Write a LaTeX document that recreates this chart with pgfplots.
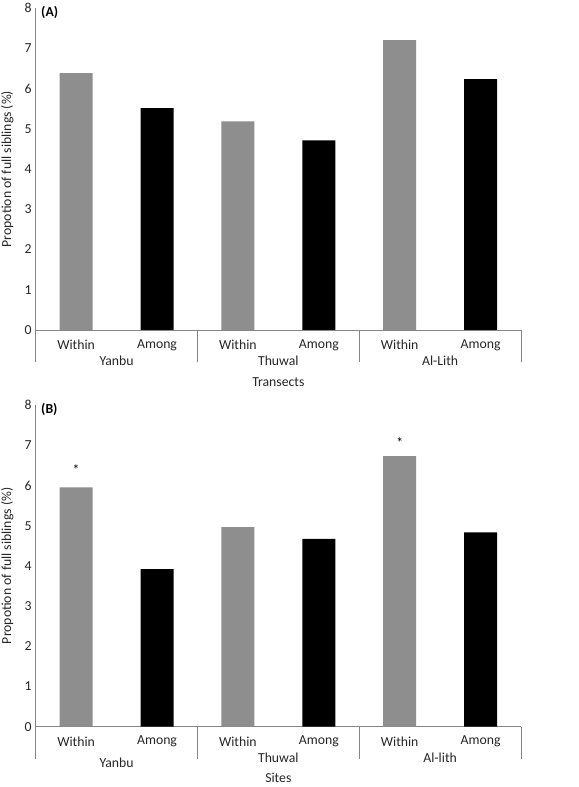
\documentclass[border=0pt]{standalone}
\usepackage{pgfplots}
\pgfplotsset{compat=1.18}
\usepackage{fontspec}
\setmainfont{Carlito}
\definecolor{bargray}{HTML}{8E8E8E}
\definecolor{axgray}{HTML}{858585}
\newcommand{\fs}{\fontsize{13.8}{16}\selectfont}
\pgfplotsset{
  panel/.style={
    scale only axis, width=485.3bp, height=322bp,
    xmin=-0.5, xmax=5.5, ymin=0, ymax=8,
    axis lines*=left,
    axis line style={draw=axgray, line width=0.8bp},
    ytick={0,...,8}, xtick={0,...,5},
    xticklabels={Within,Among,Within,Among,Within,Among},
    major tick length=0pt,
    /pgf/number format/assume math mode=true,
    tick label style={font=\fs, text=black!85},
    xticklabel style={anchor=center, yshift=-15bp},
    yticklabel style={xshift=-0.5bp},
    label style={font=\fs, text=black!85},
    ylabel={Propotion of full siblings (\%)},
    ylabel style={at={([xshift=-28.4bp]axis description cs:0,0.5)}, anchor=center},
    xlabel style={anchor=center},
    ybar, bar width=33bp, bar shift=0pt,
    clip=false,
  },
}
\newcommand{\separators}{%
  \pgfplotsinvokeforeach{-0.5,1.5,3.5,5.5}{
    \draw[axgray, line width=0.8bp] (axis cs:##1,0) -- ([yshift=-32bp]axis cs:##1,0);
  }}
\begin{document}
\begin{tikzpicture}
\path[use as bounding box] (0,0) rectangle (579bp,787bp);
% Panel A
\begin{axis}[panel, at={(35.7bp,457bp)}, anchor=south west,
  xlabel={Transects},
  xlabel style={at={([yshift=-52bp]axis description cs:0.5,0)}}]
\addplot[fill=bargray, draw=none] coordinates {(0,6.38) (2,5.18) (4,7.20)};
\addplot[fill=black, draw=none] coordinates {(1,5.51) (3,4.71) (5,6.23)};
\separators
\node[font=\fs\bfseries, anchor=west] at ([xshift=2bp,yshift=-4bp]rel axis cs:0,1) {(A)};
\node[font=\fs, text=black!85, anchor=center] at ([yshift=-31bp]axis cs:0.5,0) {Yanbu};
\node[font=\fs, text=black!85, anchor=center] at ([yshift=-31bp]axis cs:2.5,0) {Thuwal};
\node[font=\fs, text=black!85, anchor=center] at ([yshift=-31bp]axis cs:4.5,0) {Al-Lith};
\end{axis}
% Panel B
\begin{axis}[panel, at={(35.7bp,60.3bp)}, anchor=south west, height=321.7bp,
  xlabel={Sites},
  xlabel style={at={([yshift=-51bp]axis description cs:0.5,0)}}]
\addplot[fill=bargray, draw=none] coordinates {(0,5.95) (2,4.96) (4,6.73)};
\addplot[fill=black, draw=none] coordinates {(1,3.92) (3,4.67) (5,4.83)};
\separators
\node[font=\fs\bfseries, anchor=west] at ([xshift=2bp,yshift=-4bp]rel axis cs:0,1) {(B)};
\node[font=\fs, anchor=base] at ([yshift=12.5bp]axis cs:0,5.95) {*};
\node[font=\fs, anchor=base] at ([yshift=8.5bp]axis cs:4,6.73) {*};
\node[font=\fs, text=black!85, anchor=center] at ([yshift=-36bp]axis cs:0.5,0) {Yanbu};
\node[font=\fs, text=black!85, anchor=center] at ([yshift=-31bp]axis cs:2.5,0) {Thuwal};
\node[font=\fs, text=black!85, anchor=center] at ([yshift=-31bp]axis cs:4.5,0) {Al-lith};
\end{axis}
\end{tikzpicture}
\end{document}
